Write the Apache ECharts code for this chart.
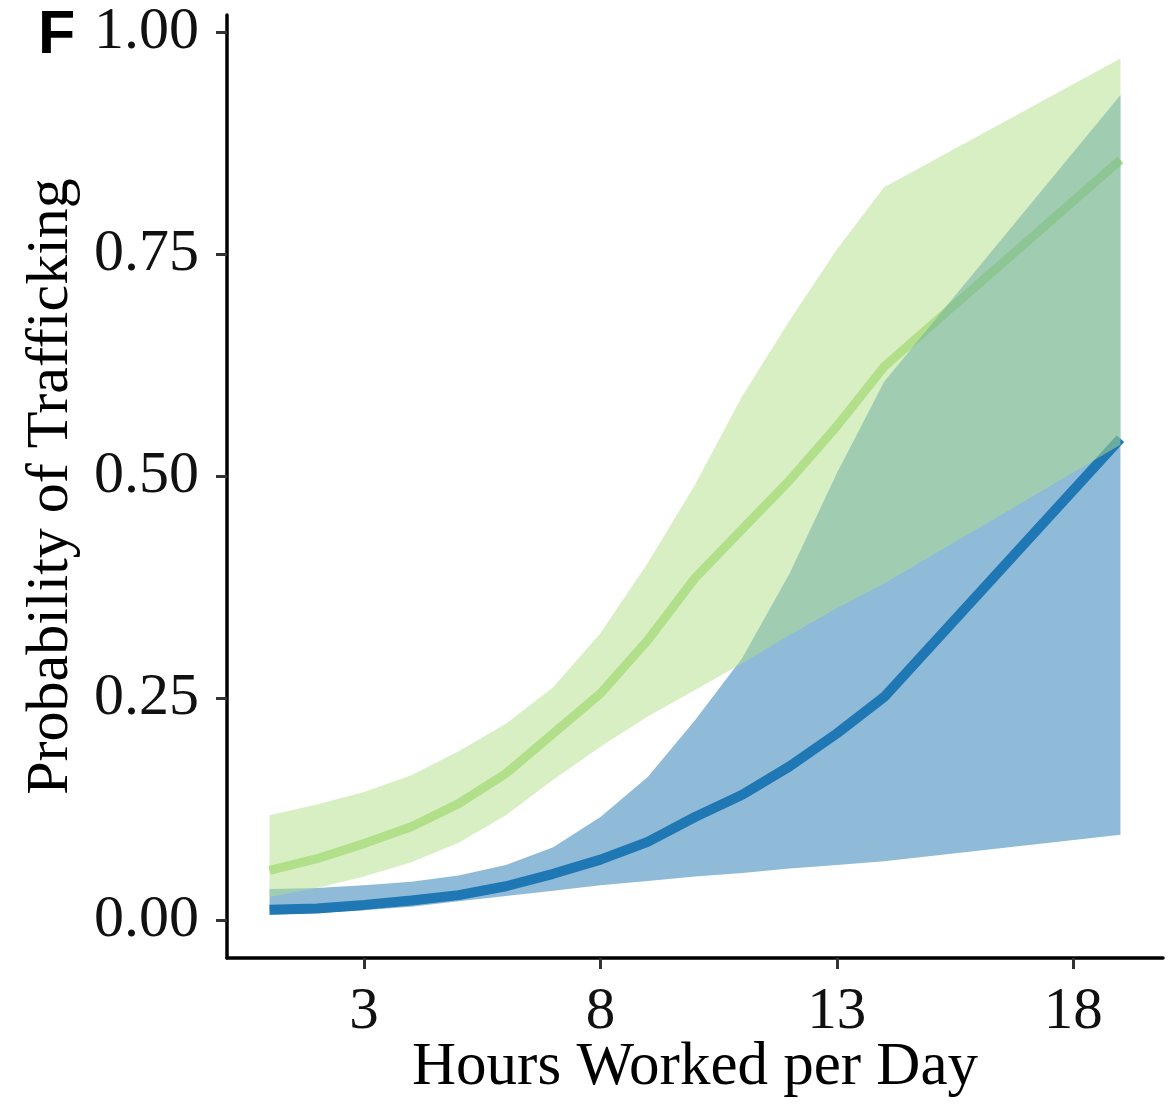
<!DOCTYPE html>
<html>
<head>
<meta charset="utf-8">
<script src="https://cdn.jsdelivr.net/npm/echarts@6/dist/echarts.min.js"></script>
<style>
  html, body { margin: 0; padding: 0; background: #ffffff; }
  #chart { width: 1173px; height: 1104px; }
</style>
</head>
<body>
<div id="chart"></div>
<script>
// ---- data ----
const hours = [1, 2, 3, 4, 5, 6, 7, 8, 9, 10, 11, 12, 13, 14, 19];

const greenFit  = [0.056, 0.069, 0.086, 0.105, 0.131, 0.165, 0.210, 0.255, 0.315, 0.385, 0.440, 0.495, 0.556, 0.623, 0.856];
const greenLow  = [0.026, 0.036, 0.049, 0.065, 0.087, 0.118, 0.158, 0.195, 0.229, 0.259, 0.289, 0.321, 0.351, 0.379, 0.535];
const greenHigh = [0.118, 0.130, 0.144, 0.163, 0.190, 0.221, 0.262, 0.323, 0.402, 0.490, 0.590, 0.675, 0.755, 0.825, 0.970];

const blueFit  = [0.0115, 0.013, 0.017, 0.022, 0.028, 0.038, 0.052, 0.068, 0.088, 0.116, 0.141, 0.173, 0.210, 0.251, 0.542];
const blueLow  = [0.006, 0.008, 0.011, 0.015, 0.021, 0.027, 0.033, 0.039, 0.044, 0.049, 0.053, 0.058, 0.062, 0.066, 0.096];
const blueHigh = [0.035, 0.036, 0.039, 0.043, 0.050, 0.062, 0.082, 0.116, 0.161, 0.225, 0.295, 0.390, 0.503, 0.606, 0.929];

const xTicks = [3, 8, 13, 18];
const yTicks = [0, 0.25, 0.5, 0.75, 1.0];

const xTitle = 'Hours Worked per Day';
const yTitle = 'Probability of Trafficking';
const panelLabel = 'F';

// ---- colours ----
const GREEN = '#b2df8a';
const BLUE = '#1f78b4';

const pairs = (ys) => hours.map((h, i) => [h, ys[i]]);
const bandRows = (lo, hi) => hours.map((h, i) => [h, lo[i], hi[i]]);

// ribbon drawn as one polygon through the axes' own coordinate mapping
function ribbonSeries(name, lo, hi, color, z) {
  return {
    type: 'custom',
    name: name,
    z: z,
    silent: true,
    data: bandRows(lo, hi),
    encode: { x: 0, y: [1, 2] },
    renderItem: function (params, api) {
      if (params.dataIndex !== 0) return null;
      const pts = [];
      for (let i = 0; i < hours.length; i++) pts.push(api.coord([hours[i], hi[i]]));
      for (let i = hours.length - 1; i >= 0; i--) pts.push(api.coord([hours[i], lo[i]]));
      return {
        type: 'polygon',
        shape: { points: pts },
        style: { fill: color, opacity: 0.5, stroke: null }
      };
    }
  };
}

const serif = 'Liberation Serif';

const chart = echarts.init(document.getElementById('chart'), null, { renderer: 'canvas' });

const option = {
  animation: false,
  backgroundColor: '#ffffff',
  grid: { left: 227, right: 10, top: 15, bottom: 146, containLabel: false, outerBoundsMode: 'none' },
  xAxis: {
    type: 'value',
    min: 0.1,
    max: 19.9,
    name: xTitle,
    nameLocation: 'middle',
    nameGap: 79,
    nameMoveOverlap: false,
    nameTextStyle: { fontFamily: serif, fontSize: 61, color: '#000' },
    axisLine: { show: true, onZero: false, lineStyle: { color: '#000', width: 3.5 } },
    axisTick: { show: true, customValues: xTicks, length: 11, lineStyle: { color: '#333', width: 3 } },
    axisLabel: { customValues: xTicks, fontFamily: serif, fontSize: 59, color: '#111', margin: 25 },
    splitLine: { show: false }
  },
  yAxis: {
    type: 'value',
    min: -0.0428,
    max: 1.019,
    name: yTitle,
    nameLocation: 'middle',
    nameGap: 146,
    nameTextStyle: { fontFamily: serif, fontSize: 60, color: '#000' },
    axisLine: { show: true, onZero: false, lineStyle: { color: '#000', width: 3.5 } },
    axisTick: { show: true, customValues: yTicks, length: 11, lineStyle: { color: '#333', width: 3 } },
    axisLabel: {
      customValues: yTicks, fontFamily: serif, fontSize: 60, color: '#111', margin: 28,
      formatter: (v) => v.toFixed(2)
    },
    splitLine: { show: false }
  },
  graphic: [{
    type: 'text',
    left: 38,
    top: 6,
    style: { text: panelLabel, font: 'bold 61px "Liberation Sans"', fill: '#000' }
  }],
  series: [
    // fitted lines (drawn beneath the ribbons)
    {
      type: 'line', name: 'green fit', data: pairs(greenFit), z: 1,
      symbol: 'none', smooth: false, silent: true,
      lineStyle: { color: GREEN, width: 9, cap: 'butt' }
    },
    {
      type: 'line', name: 'blue fit', data: pairs(blueFit), z: 1,
      symbol: 'none', smooth: false, silent: true,
      lineStyle: { color: BLUE, width: 10, cap: 'butt' }
    },
    ribbonSeries('blue band', blueLow, blueHigh, BLUE, 2),
    ribbonSeries('green band', greenLow, greenHigh, GREEN, 3)
  ]
};

chart.setOption(option);
</script>
</body>
</html>
